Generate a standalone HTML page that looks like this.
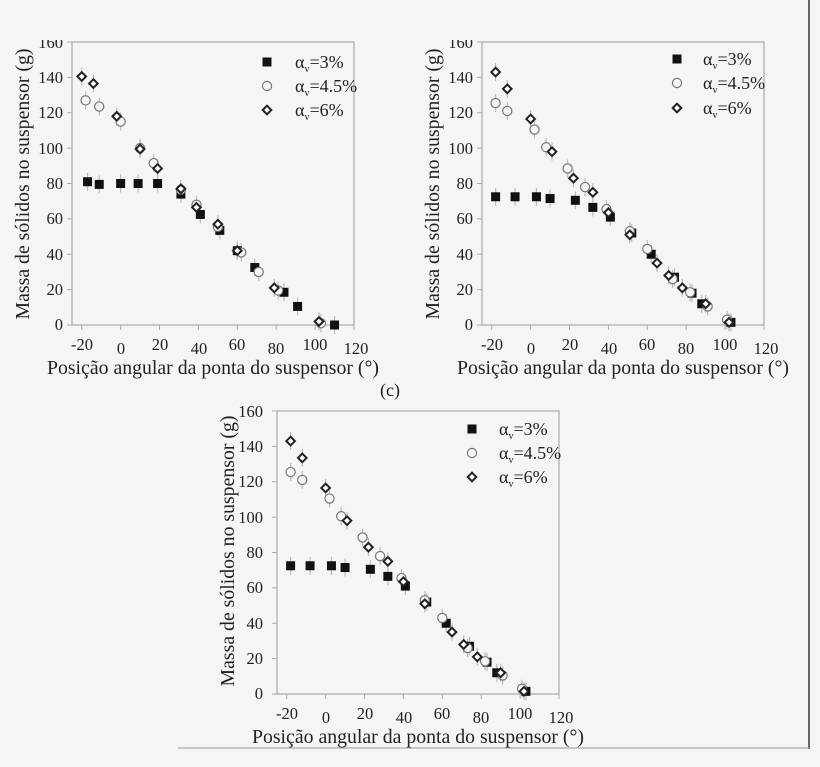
<!DOCTYPE html>
<html><head><meta charset="utf-8">
<style>
html,body{margin:0;padding:0;background:#f5f5f5;}
svg{display:block;font-family:"Liberation Serif",serif;}
.t{font-size:16.5px;fill:#222;}
.ti{font-size:19.8px;fill:#222;}
.lg{font-size:18px;fill:#222;}
.ax{stroke:#aaa;stroke-width:1.2;fill:none;}
</style></head><body>
<svg id="s" width="820" height="767" viewBox="0 0 820 767" xmlns="http://www.w3.org/2000/svg">
<rect width="820" height="767" fill="#f5f5f5"/>

<!-- Plot A -->
<g>
<rect class="ax" x="72" y="42" width="282" height="283"/>
<g class="t" text-anchor="end">
<text x="63" y="330">0</text><text x="63" y="295">20</text><text x="63" y="260">40</text><text x="63" y="224">60</text><text x="63" y="189">80</text><text x="63" y="154">100</text><text x="63" y="118">120</text><text x="63" y="83">140</text><text x="63" y="48">160</text>
</g>
<g class="t" text-anchor="middle">
<text x="82" y="350">-20</text><text x="121" y="354">0</text><text x="160" y="350">20</text><text x="199" y="354">40</text><text x="237" y="350">60</text><text x="276" y="354">80</text><text x="315" y="350">100</text><text x="356" y="354">120</text>
</g>
<text class="ti" x="213" y="374" text-anchor="middle">Posição angular da ponta do suspensor (°)</text>
<text class="ti" transform="translate(29,184) rotate(-90)" text-anchor="middle">Massa de sólidos no suspensor (g)</text>
<g class="lg"><text x="295" y="68">α<tspan font-size="10" dy="4">v</tspan><tspan dy="-4">=3%</tspan></text>
<text x="295" y="92">α<tspan font-size="10" dy="4">v</tspan><tspan dy="-4">=4.5%</tspan></text>
<text x="295" y="116">α<tspan font-size="10" dy="4">v</tspan><tspan dy="-4">=6%</tspan></text></g>
</g>

<!-- Plot B -->
<g>
<rect class="ax" x="482" y="42" width="282" height="283"/>
<g class="t" text-anchor="end">
<text x="473" y="330">0</text><text x="473" y="295">20</text><text x="473" y="260">40</text><text x="473" y="224">60</text><text x="473" y="189">80</text><text x="473" y="154">100</text><text x="473" y="118">120</text><text x="473" y="83">140</text><text x="473" y="48">160</text>
</g>
<g class="t" text-anchor="middle">
<text x="492" y="350">-20</text><text x="531" y="354">0</text><text x="570" y="350">20</text><text x="609" y="354">40</text><text x="647" y="350">60</text><text x="686" y="354">80</text><text x="725" y="350">100</text><text x="766" y="354">120</text>
</g>
<text class="ti" x="623" y="374" text-anchor="middle">Posição angular da ponta do suspensor (°)</text>
<text class="ti" transform="translate(439,184) rotate(-90)" text-anchor="middle">Massa de sólidos no suspensor (g)</text>
<g class="lg"><text x="703" y="65">α<tspan font-size="10" dy="4">v</tspan><tspan dy="-4">=3%</tspan></text>
<text x="703" y="89">α<tspan font-size="10" dy="4">v</tspan><tspan dy="-4">=4.5%</tspan></text>
<text x="703" y="114">α<tspan font-size="10" dy="4">v</tspan><tspan dy="-4">=6%</tspan></text></g>
</g>
<rect x="0" y="0" width="805" height="40" fill="#f5f5f5"/>
<line x1="809" y1="0" x2="809" y2="749" stroke="#666" stroke-width="2"/>
<line x1="178" y1="748" x2="809" y2="748" stroke="#aaa" stroke-width="1.2"/>

<text x="380" y="396" style="font-size:18px;fill:#222">(c)</text>

<!-- Plot C -->
<g>
<rect class="ax" x="277" y="411" width="282" height="283"/>
<g class="t" text-anchor="end">
<text x="263" y="699">0</text><text x="263" y="664">20</text><text x="263" y="629">40</text><text x="263" y="593">60</text><text x="263" y="558">80</text><text x="263" y="523">100</text><text x="263" y="487">120</text><text x="263" y="452">140</text><text x="263" y="417">160</text>
</g>
<g class="t" text-anchor="middle">
<text x="287" y="719">-20</text><text x="326" y="723">0</text><text x="365" y="719">20</text><text x="404" y="723">40</text><text x="442" y="719">60</text><text x="481" y="723">80</text><text x="520" y="719">100</text><text x="561" y="723">120</text>
</g>
<text class="ti" x="418" y="743" text-anchor="middle">Posição angular da ponta do suspensor (°)</text>
<text class="ti" transform="translate(234,551) rotate(-90)" text-anchor="middle">Massa de sólidos no suspensor (g)</text>
<g class="lg"><text x="499" y="435">α<tspan font-size="10" dy="4">v</tspan><tspan dy="-4">=3%</tspan></text>
<text x="499" y="459">α<tspan font-size="10" dy="4">v</tspan><tspan dy="-4">=4.5%</tspan></text>
<text x="499" y="483">α<tspan font-size="10" dy="4">v</tspan><tspan dy="-4">=6%</tspan></text></g>
</g>
<g id="m"></g>
</svg>
<script>
(function(){
var NS="http://www.w3.org/2000/svg",g=document.getElementById("m");
function el(n,a){var e=document.createElementNS(NS,n);for(var k in a)e.setAttribute(k,a[k]);g.appendChild(e);return e;}
function sq(x,y){el("rect",{x:x-4.5,y:y-4.5,width:9,height:9,fill:"#111"});}
function ci(x,y){el("circle",{cx:x,cy:y,r:4.6,fill:"#f5f5f5",stroke:"#777","stroke-width":1.2});}
function di(x,y){el("path",{d:"M"+x+" "+(y-4.3)+"L"+(x+4.3)+" "+y+"L"+x+" "+(y+4.3)+"L"+(x-4.3)+" "+y+"Z",fill:"#fff",stroke:"#222","stroke-width":2});}
function eb(x,y){el("line",{x1:x,y1:y-9,x2:x,y2:y+9,stroke:"#bbb","stroke-width":1.2});}
function plot(x0,y0,top,d){
 var sx=282/145,sy=283/160;
 for(var v=0;v<=160;v+=20){var y=y0-v*sy;el("line",{x1:x0-5,y1:y,x2:x0,y2:y,stroke:"#aaa"});}
 for(var u=-20;u<=120;u+=20){var x=x0+(u+25)*sx;el("line",{x1:x,y1:y0,x2:x,y2:y0+5,stroke:"#aaa"});}
 var fs=[sq,ci,di];
 d.forEach(function(s,i){s.forEach(function(p){var x=x0+(p[0]+25)*sx,y=y0-p[1]*sy;eb(x,y);});});
 d.forEach(function(s,i){s.forEach(function(p){var x=x0+(p[0]+25)*sx,y=y0-p[1]*sy;fs[i](x,y);});});
}
var A=[[[-17,81],[-11,79.5],[0,80],[9,80],[19,80],[31,74],[41,62.5],[51,53.5],[60,42],[69,32.5],[84,18.5],[91,10.5],[110,0]],
[[-18,127],[-11,123.5],[0,115],[10,100],[17,91.5],[31,76.5],[39,68],[50,55.5],[62,41],[71,30],[81,19.5],[103,1]],
[[-20,140.5],[-14,136.5],[-2,118],[10,99.5],[19,88.5],[31,77],[39,66.5],[50,57],[60,42],[79,21],[102,2]]];
var B=[[[-18,72.5],[-8,72.5],[3,72.5],[10,71.5],[23,70.5],[32,66.5],[41,61],[52,52],[62,40],[74,27],[83,18],[88,12],[103,1.5]],
[[-18,125.5],[-12,121],[2,110.5],[8,100.5],[19,88.5],[28,78],[39,65.5],[51,53],[60,43],[73,26],[82,18.5],[91,10.5],[101,3]],
[[-18,143],[-12,133.5],[0,116.5],[11,98],[22,83],[32,75],[40,63.5],[51,51],[65,35],[71,28],[78,21],[90,12],[102,1.5]]];
plot(72,325,42,A);plot(482,325,42,B);plot(277,694,411,B);
sq(267,62);ci(267,86);di(267,110);
sq(677,59);ci(677,83);di(677,108);
sq(472,429);ci(472,453);di(472,477);
})();
</script>
</body></html>
